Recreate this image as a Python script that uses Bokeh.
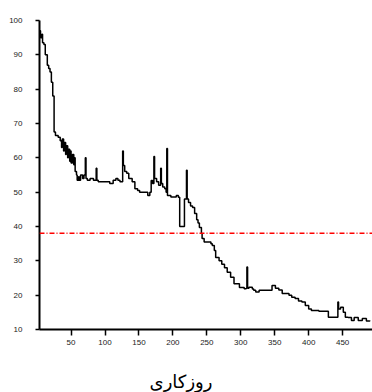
from bokeh.plotting import figure
from bokeh.models import Range1d, FixedTicker, Span, Title
from bokeh.embed import file_html
from bokeh.resources import INLINE

# Series (day index, value)
days = [4, 5, 7, 8, 10, 12, 15, 17, 19, 21, 23, 25, 27, 31, 34, 36, 37, 39, 40, 42,
        43, 45, 46, 48, 49, 50, 52, 54, 55, 56, 58, 59, 61, 62, 64, 67, 69, 71, 72, 74,
        78, 83, 87, 88, 90, 99, 107, 112, 116, 119, 122, 126, 127, 129, 132, 135, 140, 144, 148, 151,
        159, 163, 166, 168, 170, 172, 173, 176, 179, 182, 183, 185, 188, 190, 191, 192, 197, 202, 205, 208,
        210, 216, 217, 220, 221, 223, 226, 229, 232, 235, 237, 239, 242, 243, 246, 251, 256, 258, 261, 263,
        268, 272, 276, 280, 285, 290, 298, 305, 308, 309, 310, 312, 317, 319, 322, 327, 334, 344, 346, 351,
        356, 361, 366, 371, 375, 380, 385, 390, 395, 400, 404, 415, 426, 429, 441, 443, 444, 447, 451, 454,
        458, 463, 467, 473, 479, 485, 490]
values = [97, 95, 96, 93.5, 93, 90, 87, 86, 85, 82, 78, 67.5, 66.5, 66, 65, 63, 65.5, 62, 64.5, 61,
          63.5, 60, 62.5, 59, 62, 58.5, 61, 58, 60, 56, 55, 53.5, 54.5, 53.5, 55, 54, 55, 60, 54, 53.5,
          54, 53.5, 57, 53.5, 53, 53, 52.5, 53.5, 54, 53.5, 53, 62, 57.8, 56, 55.5, 54, 53, 51, 50.5, 50,
          50, 49, 50, 53.4, 52.5, 60.4, 54, 53, 52, 57, 52.5, 51.5, 51, 50, 62.7, 49, 48.6, 48.6, 49, 48.5,
          40, 40, 48, 56.4, 48, 47, 46, 45.5, 43.8, 42, 41, 39.7, 38, 36.5, 35.5, 35.5, 35, 34.5, 33, 31,
          30, 29, 28, 26.7, 25.2, 23.3, 22.2, 21.9, 22, 28.2, 22, 22.3, 21.8, 21.4, 20.9, 21.4, 21.4, 21.4, 22.8, 22,
          21.5, 20.5, 20.5, 20, 19.4, 19, 18.3, 18, 17, 16, 15.5, 15.3, 15.3, 13.6, 13.6, 18, 16, 16.5, 15, 13.6,
          13.5, 12.6, 13.5, 12.6, 13.2, 12.5, 12.6]
threshold = 38
x_ticks = [50, 100, 150, 200, 250, 300, 350, 400, 450]
y_ticks = [10, 20, 30, 40, 50, 60, 70, 80, 90, 100]
x_label = "روزکاری"

p = figure(width=372, height=392, output_backend="svg", toolbar_location=None,
           x_range=Range1d(3.5, 494), y_range=Range1d(10, 100),
           min_border_left=39, min_border_right=0, min_border_top=20, min_border_bottom=0)
p.outline_line_color = None
p.xgrid.visible = False
p.ygrid.visible = False
p.background_fill_color = "white"

p.step(days, values, mode="after", line_color="black", line_width=1.5)
p.add_layout(Span(location=threshold, dimension="width", line_color="#ff0000",
                  line_width=1.5, line_dash="5 2 1 2"))

for ax in (p.xaxis[0], p.yaxis[0]):
    ax.axis_line_width = 2
    ax.axis_line_color = "black"
    ax.major_tick_line_width = 1.5
    ax.major_tick_line_color = "black"
    ax.major_tick_in = 0
    ax.minor_tick_line_color = None
    ax.major_label_text_font = "Liberation Sans"
    ax.major_label_text_font_size = "8px"
    ax.major_label_text_color = "#222222"

p.xaxis.ticker = FixedTicker(ticks=x_ticks)
p.yaxis.ticker = FixedTicker(ticks=y_ticks)
p.xaxis.major_tick_out = 6
p.yaxis.major_tick_out = 4
p.xaxis.major_label_standoff = 4
p.yaxis.major_label_standoff = 13

# spacer panel between the axis and the axis title
p.add_layout(Title(text=" ", text_font_size="1px", standoff=17), "below")
p.add_layout(Title(text=x_label, align="right", offset=160, standoff=2,
                   vertical_align="bottom",
                   text_font="DejaVu Sans", text_font_size="18px",
                   text_font_style="normal", text_color="black"), "below")

open("out.html", "w").write(file_html(p, INLINE))
